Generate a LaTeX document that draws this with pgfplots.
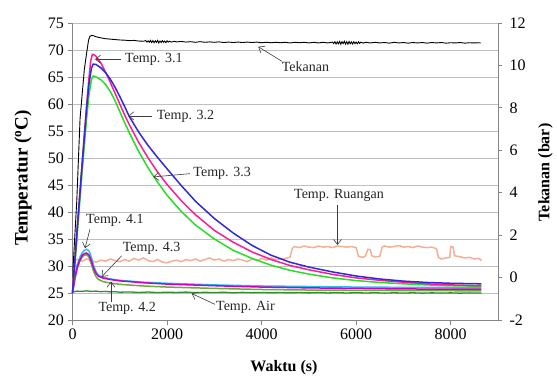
\documentclass[border=0pt]{standalone}
\usepackage{fontspec}
\setmainfont{Liberation Serif}
\usepackage{pgfplots}
\pgfplotsset{compat=1.18}
\usetikzlibrary{arrows.meta}
\definecolor{cpink}{RGB}{250,30,150}
\definecolor{cblue}{RGB}{50,40,220}
\definecolor{cgreen}{RGB}{40,220,40}
\definecolor{ccyan}{RGB}{40,190,240}
\definecolor{cmag}{RGB}{200,0,200}
\definecolor{colive}{RGB}{110,170,60}
\definecolor{cair}{RGB}{50,140,50}
\definecolor{csalmon}{RGB}{245,175,150}
\definecolor{cgrid}{RGB}{191,191,191}
\definecolor{caxis}{RGB}{134,134,134}
\definecolor{carrow}{RGB}{60,60,60}
\begin{document}
\begin{tikzpicture}
\path[use as bounding box] (0,0) rectangle (557pt,376pt);
\pgfplotsset{
  base/.style={
    at={(72.5pt,56pt)}, anchor=south west,
    scale only axis, width=425.5pt, height=297pt,
    xmin=0, xmax=9000,
    tick align=outside,
    major tick length=5pt,
    axis line style={draw=caxis, line width=0.8pt},
    major tick style={draw=caxis, line width=0.8pt},
    ticklabel style={font=\fontsize{16}{18}\selectfont},
    /pgf/number format/assume math mode=true,
    /pgf/number format/1000 sep={},
    scaled ticks=false,
  }
}
\begin{axis}[base,
  axis x line*=bottom, axis y line*=left,
  ymin=20, ymax=75, ytick={20,25,...,75},
  xtick={0,2000,4000,6000,8000},
  ymajorgrids,
  major grid style={draw=cgrid, line width=0.8pt},
  every axis x label/.style={at={(rel axis cs:0.497,-0.16)}, anchor=center, font=\fontsize{16}{18}\selectfont\bfseries},
  every axis y label/.style={at={(rel axis cs:-0.1163,0.478)}, anchor=center, rotate=90, font=\fontsize{19}{21}\selectfont\bfseries},
  xlabel={Waktu (s)},
  ylabel={Temperatur (\textsuperscript{o}C)},
  clip=false,
]
% Temp Ruangan
\addplot[csalmon, line width=1.5pt] coordinates {
(0,30.8)(100,31.2)(200,30.9)(300,31.3)(400,31.0)(500,30.7)(600,31.1)(700,30.9)(800,31.3)(900,31.0)
(1000,30.8)(1100,31.2)(1200,30.9)(1300,31.4)(1400,31.1)(1500,31.5)(1600,31.0)(1700,30.8)(1800,31.2)(1900,30.7)
(2000,30.6)(2100,30.9)(2200,31.1)(2300,30.8)(2400,31.2)(2500,31.0)(2600,31.3)(2700,30.9)(2800,31.2)(2900,31.5)
(3000,31.1)(3100,31.3)(3200,30.9)(3300,31.2)(3400,31.0)(3500,31.3)(3600,31.1)(3700,30.8)(3800,31.3)(3900,31.0)
(4000,31.4)(4100,31.1)(4200,31.5)(4300,31.2)(4400,31.3)(4500,31.4)(4600,31.6)(4650,33.3)(4700,33.6)(4800,33.4)
(4900,33.7)(5000,33.5)(5100,33.4)(5200,33.7)(5300,33.5)(5400,33.6)(5500,33.4)(5600,33.7)(5700,33.6)(5800,33.5)
(5900,33.6)(6000,33.4)(6050,31.8)(6150,31.6)(6200,31.9)(6250,33.1)(6300,33.0)(6330,31.9)(6400,31.7)(6500,31.8)
(6550,33.5)(6600,33.7)(6700,33.5)(6800,33.6)(6900,33.8)(7000,33.5)(7100,33.6)(7200,33.4)(7300,33.7)(7400,33.5)
(7500,33.4)(7600,33.5)(7700,33.2)(7740,31.6)(7800,31.3)(7900,31.5)(7980,31.6)(8000,33.6)(8050,33.5)(8080,31.9)
(8200,31.7)(8300,31.5)(8400,31.6)(8500,31.3)(8600,31.4)(8650,31.0)};
% Temp Air
\addplot[cair, line width=1.3pt] coordinates {
(0,25.2)(100,25.35)(200,25.3)(300,25.4)(400,25.3)(500,25.35)(600,25.25)(700,25.3)(800,25.2)(900,25.25)
(1000,25.15)(1200,25.2)(1400,25.1)(1600,25.18)(1800,25.08)(2000,25.15)(2200,25.1)(2400,25.17)(2600,25.07)(2800,25.13)
(3000,25.08)(3200,25.14)(3400,25.05)(3600,25.12)(3800,25.06)(4000,25.11)(4200,25.04)(4400,25.1)(4600,25.03)(4800,25.09)
(5000,25.02)(5200,25.08)(5400,25.01)(5600,25.07)(5800,25.0)(6000,25.06)(6200,25.0)(6400,25.05)(6600,24.98)(6800,25.04)
(7000,24.99)(7200,25.04)(7400,24.97)(7600,25.03)(7800,24.98)(8000,25.03)(8200,24.97)(8400,25.02)(8650,24.98)};
% Temp 4.1
\addplot[ccyan, line width=1.5pt] coordinates {
(0,25)(50,28)(100,30.2)(150,31.5)(200,32.4)(250,32.9)(300,33.1)(350,32.8)(400,31.6)(450,30.0)(500,28.9)(550,28.3)
(650,27.9)(800,27.6)(1000,27.35)(1500,27.0)(2000,26.8)(3000,26.5)(4000,26.3)(5000,26.2)(6000,26.1)(7000,26.05)(8650,26.0)};
% Temp 4.2
\addplot[colive, line width=1.5pt] coordinates {
(0,25)(50,27.5)(100,29.5)(150,30.8)(200,31.6)(250,32.0)(300,32.1)(350,31.6)(400,30.3)(450,28.9)(500,28.0)(550,27.5)
(650,27.1)(800,26.85)(1000,26.6)(1500,26.3)(2000,26.1)(3000,25.85)(4000,25.65)(5000,25.55)(6000,25.5)(7000,25.45)(8650,25.4)};
% Temp 4.3
\addplot[cmag, line width=1.5pt] coordinates {
(0,25)(50,27.8)(100,29.8)(150,31.0)(200,31.9)(250,32.3)(300,32.4)(350,32.0)(400,30.9)(450,29.5)(500,28.6)(550,28.1)
(650,27.75)(800,27.5)(1000,27.25)(1500,26.9)(2000,26.65)(3000,26.35)(4000,26.1)(5000,25.95)(6000,25.85)(7000,25.75)(8650,25.7)};
% Temp 3.3
\addplot[cgreen, line width=1.5pt] coordinates {
(0,25)(30,28)(100,35.8)(200,47)(300,57.5)(350,61.8)(400,64.5)(440,65.2)(500,65.0)(600,64.5)(700,63.6)(800,62.3)
(900,60.6)(1000,58.6)(1100,56.6)(1200,54.7)(1400,51.2)(1600,48.15)(1800,45.5)(2000,43.1)(2300,40.1)(2600,37.6)
(3000,35.0)(3400,32.9)(3800,31.4)(4200,30.15)(4600,29.2)(5000,28.5)(5500,27.8)(6000,27.3)(6500,26.95)(7000,26.7)
(7500,26.5)(8000,26.35)(8650,26.25)};
% Temp 3.1
\addplot[cpink, line width=1.5pt] coordinates {
(0,25)(30,28.5)(100,37)(200,48.5)(300,60)(350,65)(385,68)(420,69.2)(460,69.1)(500,68.8)(600,67.6)(700,65.9)
(800,64.0)(900,62.0)(1000,60.0)(1100,58.0)(1200,56.2)(1400,52.9)(1600,50.0)(1800,47.4)(2000,45.1)(2300,42.1)
(2600,39.5)(3000,36.6)(3400,34.4)(3800,32.6)(4200,31.2)(4600,30.1)(5000,29.3)(5500,28.45)(6000,27.8)(6500,27.35)
(7000,27.0)(7500,26.7)(8000,26.5)(8650,26.35)};
% Temp 3.2
\addplot[cblue, line width=1.5pt] coordinates {
(0,25)(30,28.5)(100,37)(200,48.5)(300,59.3)(350,63.8)(400,66.6)(440,67.4)(500,67.3)(600,66.7)(700,65.8)(800,64.6)
(900,63.1)(1000,61.4)(1100,59.6)(1200,57.7)(1400,54.8)(1600,52.3)(1800,50.1)(2000,48.0)(2300,44.9)(2600,42.0)
(3000,38.8)(3400,36.1)(3800,33.8)(4200,32.0)(4600,30.7)(5000,29.8)(5500,28.9)(6000,28.15)(6500,27.6)(7000,27.2)
(7500,26.95)(8000,26.8)(8650,26.7)};
% annotations
\tikzset{lab/.style={inner sep=0pt, anchor=west, text=black!85, font=\fontsize{14}{16}\selectfont},
         arr/.style={draw=carrow, line width=0.6pt, -{Straight Barb[length=5pt,width=8pt]}}}
\node[lab] at (axis cs:1110,68.3) {Temp. 3.1};
\draw[arr] (axis cs:1026,68.3) -- (axis cs:476,68.3);
\node[lab] at (axis cs:1781,57.8) {Temp. 3.2};
\draw[arr] (axis cs:1682,57.8) -- (axis cs:1180,57.8);
\node[lab] at (axis cs:2555,47.2) {Temp. 3.3};
\draw[arr] (axis cs:2485,47.1) -- (axis cs:1709,46.5);
\node[lab] at (axis cs:4425,66.9) {Tekanan};
\draw[arr] (axis cs:4431,67.9) -- (axis cs:3930,70.6);
\node[lab, anchor=center] at (axis cs:5637,43.0) {Temp. Ruangan};
\draw[arr] (axis cs:5605,41.3) -- (axis cs:5605,33.9);
\node[lab] at (axis cs:286,38.4) {Temp. 4.1};
\draw[arr] (axis cs:370,36.8) -- (axis cs:264,33.3);
\node[lab] at (axis cs:1062,33.3) {Temp. 4.3};
\draw[arr] (axis cs:1041,31.9) -- (axis cs:618,28.0);
\node[lab] at (axis cs:546,22.2) {Temp. 4.2};
\draw[arr] (axis cs:814,23.4) -- (axis cs:814,27.1);
\node[lab] at (axis cs:3035,22.35) {Temp. Air};
\draw[arr] (axis cs:3014,22.9) -- (axis cs:2521,24.9);
\end{axis}
\begin{axis}[base,
  axis x line=none, axis y line*=right,
  ymin=-2, ymax=12, ytick={-2,0,...,12},
  major tick length=4pt,
  yticklabel style={xshift=4pt},
  every axis y label/.style={at={(rel axis cs:1.1116,0.497)}, anchor=center, rotate=90, font=\fontsize{16}{18}\selectfont\bfseries},
  ylabel={Tekanan (bar)},
]
\addplot[black, line width=0.9pt] coordinates {
(0,0.0)(90,3.6)(160,7.5)(250,9.8)(300,10.6)(340,11.2)(370,11.38)(420,11.42)(500,11.35)(600,11.30)(700,11.26)(800,11.24)
(900,11.22)(1000,11.20)(1100,11.19)(1200,11.17)(1300,11.18)(1400,11.15)(1500,11.14)(1550,11.17)(1575,11.10)(1600,11.16)
(1625,11.09)(1650,11.18)(1675,11.08)(1700,11.17)(1725,11.07)(1750,11.16)(1775,11.09)(1800,11.18)(1825,11.06)(1850,11.15)
(1875,11.08)(1900,11.17)(1925,11.09)(1950,11.15)(1975,11.07)(2000,11.16)(2025,11.10)(2050,11.14)(2100,11.10)(2150,11.14)
(2200,11.11)(2300,11.13)(2400,11.10)(2500,11.12)(2600,11.09)(2700,11.12)(2800,11.09)(2900,11.11)(3000,11.09)(3100,11.11)
(3200,11.08)(3300,11.10)(3400,11.08)(3500,11.10)(3600,11.08)(3700,11.10)(3800,11.08)(3900,11.10)(4000,11.07)(4100,11.09)
(4200,11.07)(4300,11.09)(4400,11.07)(4500,11.09)(4600,11.06)(4700,11.09)(4800,11.07)(4900,11.09)(5000,11.06)(5100,11.09)
(5200,11.06)(5300,11.09)(5400,11.06)(5500,11.10)(5525,11.03)(5550,11.12)(5575,11.01)(5600,11.11)(5625,11.02)(5650,11.13)
(5675,11.00)(5700,11.12)(5725,11.03)(5750,11.14)(5775,11.01)(5800,11.12)(5825,11.00)(5850,11.13)(5875,11.02)(5900,11.11)
(5925,11.01)(5950,11.12)(5975,11.03)(6000,11.10)(6025,11.02)(6050,11.11)(6075,11.04)(6100,11.10)(6150,11.05)(6200,11.09)
(6300,11.06)(6400,11.09)(6500,11.06)(6600,11.08)(6700,11.05)(6800,11.09)(6900,11.06)(7000,11.08)(7100,11.05)(7200,11.08)
(7300,11.06)(7400,11.08)(7500,11.05)(7600,11.08)(7700,11.06)(7800,11.08)(7900,11.05)(8000,11.07)(8100,11.06)(8200,11.08)
(8300,11.05)(8400,11.07)(8500,11.06)(8600,11.07)(8633,11.06)};
\end{axis}
\end{tikzpicture}
\end{document}
